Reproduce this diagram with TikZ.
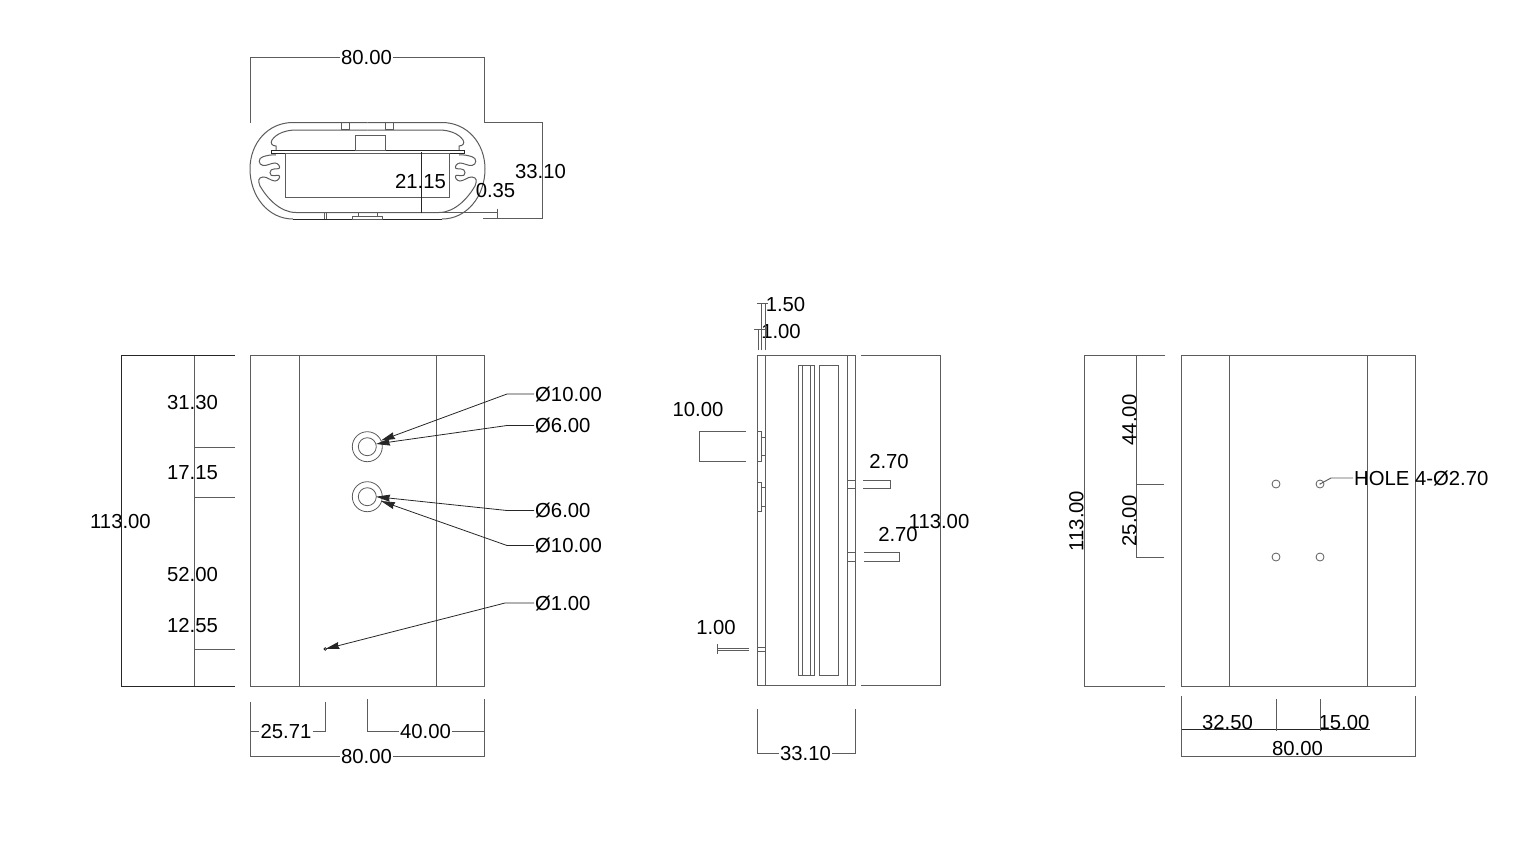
\documentclass[tikz,border=0pt]{standalone}
\usepackage{fontspec}
\setmainfont{Liberation Sans}
\usetikzlibrary{arrows.meta}
\definecolor{lineink}{gray}{0.36}
\definecolor{darkink}{gray}{0.15}
\tikzset{
  part/.style={draw=lineink,line width=1pt},
  dim/.style={draw=lineink,line width=0.95pt},
  dark/.style={draw=darkink,line width=1pt},
  lead/.style={draw=darkink,line width=0.8pt,-{Stealth[length=14pt,width=7pt,inset=1pt]}},
  lbl/.style={font=\fontsize{20.3}{24}\selectfont,text=black,inner xsep=1pt,inner ysep=1pt,text height=14.6pt,text depth=0pt,anchor=center},
  hole/.style={draw=lineink,line width=0.8pt}
}
\newcommand{\halfprofile}{%
  \draw[part] (367.5,122.5) -- (293,122.5) .. controls (268,122.5) and (250,143) .. (250,169) .. controls (250,196) and (268,219) .. (293,219);
  \draw[dark] (293,219) -- (367.5,219);
  \draw[part] (367.5,130) -- (296,130) .. controls (285,130) and (276,134) .. (272,140) .. controls (270,143) and (272,146) .. (276,146) -- (276,150.7);
  \draw[part] (276,155) .. controls (271,154.5) and (267,155.5) .. (263,156.7) .. controls (258,158) and (258,164.5) .. (263,165.5)
     .. controls (267,166) and (271,163) .. (275,163) .. controls (278,163) and (281,167) .. (279,168.5) .. controls (277,169.5) and (270,167.5) .. (270,172.7)
     .. controls (270,178) and (277,174.5) .. (279,175.5) .. controls (281,177) and (278,181) .. (275,181) .. controls (271,181) and (267,176.5) .. (263,177)
     .. controls (258,177.5) and (258,181) .. (260,186) .. controls (267,198) and (280,212.5) .. (296,212.5) -- (367.5,212.5);
}
\begin{document}
\begin{tikzpicture}[x=1pt,y=-1pt]
\useasboundingbox (0,0) rectangle (1532,849);

% ---------- top view ----------
\halfprofile
\begin{scope}[shift={(735,0)},xscale=-1]
\halfprofile
\end{scope}
\draw[dark] (271,150.7) rectangle (464,153.8);
\draw[part] (285,153.8) rectangle (449.5,197);
\draw[part] (355,135) rectangle (385,150.7);
\draw[part] (341.7,122.5) rectangle (349.3,129.7);
\draw[part] (385.7,122.5) rectangle (393.3,129.7);
\draw[part] (324,212.5) -- (324,219) (326.7,212.5) -- (326.7,219);
\draw[part] (358.5,212.5) rectangle (377,216);
\draw[part] (352.5,216) rectangle (382,219);

\node[lbl] (t80) at (366.5,57) {80.00};
\coordinate (t80l) at (250,57);
\coordinate (t80r) at (484,57);
\draw[dim] (t80l) -- (t80.west) (t80.east) -- (t80r);
\draw[dim] (t80l) -- (250,123) (t80r) -- (484,122.5);
\node[lbl] (t3310) at (540.5,171) {33.10};
\coordinate (t33a) at (484,122.5);
\coordinate (t33b) at (483,218.7);
\draw[dim] (t33a) -- (542,122.5) -- (542,218.7) -- (t33b);
\coordinate (t21a) at (421,152);
\coordinate (t21b) at (421,212.5);
\draw[dark] (t21a) -- (t21b);
\node[lbl] (t2115) at (420.5,181) {21.15};
\node[lbl] (t035) at (495.5,190) {0.35};
\coordinate (t35a) at (427,212.5);
\coordinate (t35b) at (483,218.7);
\draw[dim] (t35a) -- (497,212.5) (t35b) -- (497,218.7) (497,208.5) -- (497,218.7);

% ---------- front view ----------
\draw[part] (250,355.5) rectangle (484.5,686);
\draw[part] (299,355.5) -- (299,686) (436,355.5) -- (436,686);
\foreach \n/\yy in {a/446.7,b/496.7}{
  \coordinate (c\n) at (367.3,\yy);
  \draw[hole] (c\n) circle (15) (c\n) circle (9);
}
\draw[darkink,line width=0.8pt] (325.3,649) circle (1.3);

\node[lbl,anchor=west] (d10a) at (534,394) {Ø10.00};
\node[lbl,anchor=west] (d6a) at (534,425.5) {Ø6.00};
\node[lbl,anchor=west] (d6b) at (534,510.5) {Ø6.00};
\node[lbl,anchor=west] (d10b) at (534,545.5) {Ø10.00};
\node[lbl,anchor=west] (d1) at (534,603) {Ø1.00};
\coordinate (tip10a) at (381,440.5);
\coordinate (tip6a) at (376,444);
\coordinate (tip6b) at (376,496.7);
\coordinate (tip10b) at (381,501);
\coordinate (tip1) at (325.3,649);
\draw[lead] (d10a.west) -- (507,394) -- (tip10a);
\draw[lead] (d6a.west) -- (507,425.5) -- (tip6a);
\draw[lead] (d6b.west) -- (507,510.5) -- (tip6b);
\draw[lead] (d10b.west) -- (507,545.5) -- (tip10b);
\draw[lead] (d1.west) -- (505,603) -- (tip1);

\node[lbl] (f113) at (120.5,521) {113.00};
\draw[dark] (235,355.5) -- (121,355.5) -- (121,686) -- (235,686);
\draw[dim] (194,355.5) -- (194,686);
\draw[dim] (194,447) -- (235,447) (194,497) -- (235,497) (194,649) -- (235,649);
\node[lbl] (f3130) at (192.5,402) {31.30};
\node[lbl] (f1715) at (192.5,472.5) {17.15};
\node[lbl] (f5200) at (192.5,574) {52.00};
\node[lbl] (f1255) at (192.5,625) {12.55};

\node[lbl] (f2571) at (286,731) {25.71};
\node[lbl] (f4000) at (425.5,731) {40.00};
\node[lbl] (f80) at (366.5,756) {80.00};
\coordinate (fa) at (250,731);
\coordinate (fb) at (325.5,731);
\coordinate (fc) at (367,731);
\coordinate (fd) at (484.5,731);
\coordinate (fe) at (250,756);
\coordinate (ff) at (484.5,756);
\draw[dim] (fa) -- (f2571.west) (f2571.east) -- (fb) -- (325.5,702);
\draw[dim] (367,699) -- (fc) -- (f4000.west) (f4000.east) -- (fd);
\draw[dim] (fe) -- (f80.west) (f80.east) -- (ff);
\draw[dim] (250,702) -- (fe) (484.5,699) -- (ff);

% ---------- side view ----------
\draw[part] (757.7,355.7) rectangle (855,685.7);
\draw[part] (765.3,355.7) -- (765.3,685.7) (847.3,355.7) -- (847.3,685.7);
\draw[part] (798.3,365.3) rectangle (814,675.3);
\draw[part] (802.7,365.3) -- (802.7,675.3) (810,365.3) -- (810,675.3);
\draw[part] (819.3,365.3) rectangle (838.3,675.3);
\draw[part] (757.7,431.7) -- (761,431.7) -- (761,461.7) -- (757.7,461.7);
\draw[part] (757.7,482) -- (761,482) -- (761,511.7) -- (757.7,511.7);
\draw[part] (761,437.3) rectangle (765.3,455.7);
\draw[part] (761,487.7) rectangle (765.3,506);
\draw[part] (847.3,480.2) rectangle (855,488);
\draw[part] (847.3,552.3) rectangle (855,561.5);
\draw[part] (757.7,647) rectangle (765.3,651);

\node[lbl] (s150) at (785.5,304) {1.50};
\node[lbl] (s100) at (781,331) {1.00};
\draw[dim] (761.3,350) -- (761.3,303.5) (765.3,350) -- (765.3,303.5) (757,303.5) -- (768,303.5);
\draw[dim] (758,350) -- (758,329.5) (761.3,350) -- (761.3,329.5) (754,329.5) -- (765,329.5);

\node[lbl] (s10) at (698,409) {10.00};
\coordinate (s10a) at (746,431.7);
\coordinate (s10b) at (746,461.7);
\draw[dim] (s10a) -- (699,431.7) -- (699,461.7) -- (s10b);

\node[lbl] (s27a) at (889,461) {2.70};
\draw[dim] (863,480.5) -- (890.7,480.5) -- (890.7,488) -- (863,488);
\node[lbl] (s27b) at (898,534.5) {2.70};
\draw[dim] (864,552.5) -- (899.3,552.5) -- (899.3,561) -- (864,561);
\node[lbl] (s113) at (939,521) {113.00};
\draw[dim] (861,355.7) -- (940,355.7) -- (940,685.7) -- (861,685.7);

\node[lbl] (s1) at (716,627) {1.00};
\draw[dim] (749.3,648) -- (717,648) (749.3,650.5) -- (717,650.5) (717,644) -- (717,654);

\node[lbl] (s3310) at (805.5,753) {33.10};
\coordinate (s33a) at (757.7,753);
\coordinate (s33b) at (855,753);
\draw[dim] (757.7,709) -- (s33a) -- (s3310.west) (s3310.east) -- (s33b) -- (855,709);

% ---------- rear view ----------
\draw[part] (1181,355.5) rectangle (1415.5,686);
\draw[part] (1229.5,355.5) -- (1229.5,686) (1367,355.5) -- (1367,686);
\foreach \n/\hx/\hy in {a/1276/484,b/1320/484,c/1276/557,d/1320/557}{
  \coordinate (h\n) at (\hx,\hy);
  \draw[hole] (h\n) circle (4);
}
\fill[lineink] (hb) circle (0.6);
\node[lbl,anchor=west] (hole) at (1353,478) {HOLE 4-Ø2.70};
\draw[dim] (hole.west) -- (1331,478) -- (hb);

\node[lbl,rotate=90] (r113) at (1076,521) {113.00};
\draw[dim] (1165,355.5) -- (1084.5,355.5) -- (1084.5,686) -- (1165,686);
\draw[dim] (1165,355.5) -- (1136,355.5) -- (1136,557) -- (1164,557) (1136,484) -- (1164,484);
\node[lbl,rotate=90] (r44) at (1129,420) {44.00};
\node[lbl,rotate=90] (r25) at (1129,521) {25.00};

\node[lbl] (r325) at (1227.5,722) {32.50};
\node[lbl] (r15) at (1344,722) {15.00};
\node[lbl] (r80) at (1297.5,748) {80.00};
\draw[dark] (1181,729.5) -- (1370,729.5);
\draw[dim] (1276.3,699) -- (1276.3,731) (1320.3,699) -- (1320.3,731);
\draw[dim] (1181,696) -- (1181,756) -- (1415.5,756) -- (1415.5,696);
\end{tikzpicture}
\end{document}
